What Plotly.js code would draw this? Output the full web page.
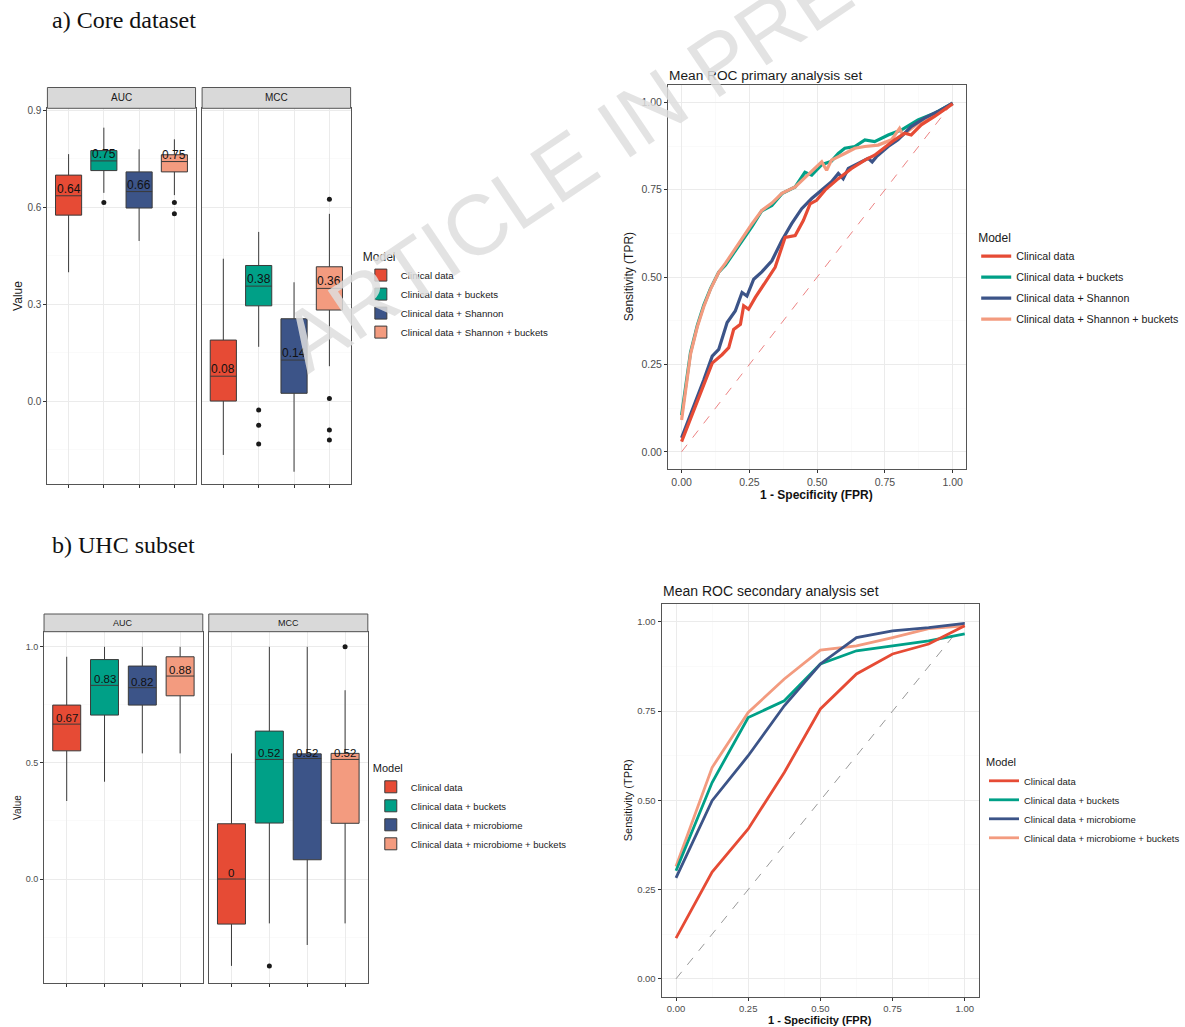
<!DOCTYPE html>
<html><head><meta charset="utf-8">
<script src="https://cdn.plot.ly/plotly-3.0.1.min.js"></script>
<style>html,body{margin:0;padding:0;background:#fff}#chart{width:1185px;height:1027px}</style>
</head><body><div id="chart"></div>
<script>
// ---------- data ----------
const modelsA = ["Clinical data", "Clinical data + buckets", "Clinical data + Shannon", "Clinical data + Shannon + buckets"];
const modelsB = ["Clinical data", "Clinical data + buckets", "Clinical data + microbiome", "Clinical data + microbiome + buckets"];
const colors = ["#E64B35", "#00A087", "#3C5488", "#F39B7F"];

// a) Core dataset - AUC
const aAucLow  = [0.399, 0.645, 0.496, 0.638];
const aAucQ1   = [0.576, 0.714, 0.598, 0.710];
const aAucMed  = [0.636, 0.744, 0.649, 0.742];
const aAucQ3   = [0.700, 0.776, 0.710, 0.763];
const aAucHigh = [0.765, 0.847, 0.780, 0.811];
const aAucLabels = ["0.64", "0.75", "0.66", "0.75"];
const aAucOutX = ["Clinical data + buckets", "Clinical data + Shannon + buckets", "Clinical data + Shannon + buckets"];
const aAucOutY = [0.615, 0.615, 0.580];

// a) Core dataset - MCC
const aMccLow  = [-0.167, 0.168, -0.219, 0.108];
const aMccQ1   = [0.000, 0.295, 0.024, 0.282];
const aMccMed  = [0.077, 0.356, 0.127, 0.349];
const aMccQ3   = [0.189, 0.420, 0.255, 0.416];
const aMccHigh = [0.441, 0.524, 0.368, 0.580];
const aMccLabels = ["0.08", "0.38", "0.14", "0.36"];
const aMccOutX = ["Clinical data + buckets", "Clinical data + buckets", "Clinical data + buckets",
                  "Clinical data + Shannon + buckets", "Clinical data + Shannon + buckets", "Clinical data + Shannon + buckets", "Clinical data + Shannon + buckets"];
const aMccOutY = [-0.028, -0.075, -0.133, 0.625, 0.008, -0.090, -0.121];

// b) UHC subset - AUC
const bAucLow  = [0.336, 0.419, 0.541, 0.541];
const bAucQ1   = [0.552, 0.706, 0.749, 0.789];
const bAucMed  = [0.667, 0.834, 0.824, 0.874];
const bAucQ3   = [0.749, 0.945, 0.917, 0.957];
const bAucHigh = [0.957, 1.000, 1.000, 1.000];
const bAucLabels = ["0.67", "0.83", "0.82", "0.88"];

// b) UHC subset - MCC
const bMccLow  = [-0.374, -0.191, -0.284, -0.191];
const bMccQ1   = [-0.194, 0.241, 0.083, 0.240];
const bMccMed  = [0.000, 0.515, 0.519, 0.515];
const bMccQ3   = [0.238, 0.637, 0.539, 0.541];
const bMccHigh = [0.541, 1.000, 1.000, 0.813];
const bMccLabels = ["0", "0.52", "0.52", "0.52"];
const bMccOutX = ["Clinical data + buckets", "Clinical data + microbiome + buckets"];
const bMccOutY = [-0.374, 1.000];

// Mean ROC primary analysis set
const rocA_clin_x = [0, 0.051, 0.082, 0.113, 0.149, 0.174, 0.192, 0.217, 0.229, 0.247, 0.272, 0.308, 0.345, 0.382, 0.419, 0.449, 0.474, 0.498, 0.529, 0.578, 0.627, 0.676, 0.712, 0.737, 0.786, 0.823, 0.847, 0.884, 0.933, 0.994, 1.0];
const rocA_clin_y = [0.029, 0.13, 0.187, 0.254, 0.278, 0.298, 0.35, 0.365, 0.418, 0.408, 0.442, 0.485, 0.528, 0.614, 0.619, 0.662, 0.71, 0.72, 0.749, 0.782, 0.811, 0.835, 0.849, 0.864, 0.893, 0.912, 0.907, 0.936, 0.96, 0.993, 0.996];
const rocA_buck_x = [0, 0.015, 0.033, 0.058, 0.082, 0.107, 0.137, 0.162, 0.211, 0.26, 0.296, 0.333, 0.37, 0.419, 0.455, 0.48, 0.517, 0.553, 0.578, 0.602, 0.639, 0.676, 0.712, 0.762, 0.81, 0.872, 0.933, 1.0];
const rocA_buck_y = [0.105, 0.19, 0.285, 0.362, 0.42, 0.468, 0.514, 0.535, 0.59, 0.645, 0.69, 0.705, 0.739, 0.758, 0.8, 0.792, 0.822, 0.832, 0.854, 0.869, 0.874, 0.893, 0.888, 0.907, 0.921, 0.95, 0.969, 0.998];
const rocA_shan_x = [0, 0.045, 0.082, 0.113, 0.137, 0.168, 0.198, 0.223, 0.241, 0.266, 0.296, 0.333, 0.37, 0.406, 0.443, 0.48, 0.517, 0.553, 0.578, 0.596, 0.615, 0.651, 0.688, 0.703, 0.719, 0.762, 0.798, 0.847, 0.896, 0.945, 1.0];
const rocA_shan_y = [0.04, 0.13, 0.206, 0.274, 0.293, 0.37, 0.403, 0.456, 0.446, 0.494, 0.515, 0.547, 0.605, 0.653, 0.696, 0.725, 0.749, 0.773, 0.797, 0.782, 0.811, 0.826, 0.84, 0.83, 0.845, 0.874, 0.893, 0.931, 0.955, 0.974, 0.998];
const rocA_both_x = [0, 0.015, 0.033, 0.058, 0.082, 0.107, 0.137, 0.162, 0.211, 0.26, 0.296, 0.333, 0.37, 0.419, 0.455, 0.517, 0.535, 0.553, 0.602, 0.639, 0.676, 0.725, 0.774, 0.804, 0.816, 0.872, 0.933, 1.0];
const rocA_both_y = [0.091, 0.183, 0.28, 0.358, 0.416, 0.466, 0.514, 0.54, 0.598, 0.653, 0.691, 0.712, 0.74, 0.758, 0.785, 0.83, 0.806, 0.835, 0.854, 0.869, 0.874, 0.878, 0.893, 0.926, 0.907, 0.94, 0.964, 0.998];

// Mean ROC secondary analysis set
const rocB_x = [0, 0.125, 0.25, 0.375, 0.5, 0.625, 0.75, 0.875, 1.0];
const rocB_clin_y = [0.114, 0.299, 0.42, 0.578, 0.756, 0.854, 0.91, 0.938, 0.989];
const rocB_buck_y = [0.303, 0.55, 0.732, 0.779, 0.882, 0.919, 0.933, 0.947, 0.966];
const rocB_micr_y = [0.283, 0.499, 0.625, 0.765, 0.882, 0.956, 0.975, 0.984, 0.996];
const rocB_both_y = [0.315, 0.592, 0.746, 0.84, 0.921, 0.933, 0.956, 0.981, 0.989];

const diagX = [0, 1];
const diagY = [0, 1];

// ---------- geometry helpers ----------
const W = 1185, H = 1027;
const fx = px => px / W;
const fy = py => 1 - py / H;

const traces = [];
const annotations = [];
const shapes = [];

function addBoxes(models, low, q1, med, q3, high, labels, xa, ya, legendName, showLeg, fs) {
  for (let i = 0; i < models.length; i++) {
    traces.push({
      type: 'box', name: models[i], x: [models[i]],
      lowerfence: [low[i]], q1: [q1[i]], median: [med[i]], q3: [q3[i]], upperfence: [high[i]],
      xaxis: xa, yaxis: ya, fillcolor: colors[i],
      line: {color: '#3a3a3a', width: 1}, whiskerwidth: 0, width: 0.74,
      boxpoints: false, showlegend: showLeg, legend: legendName, hoverinfo: 'skip'
    });
    annotations.push({
      xref: xa, yref: ya, x: models[i], y: med[i], text: labels[i], showarrow: false,
      xanchor: 'center', yanchor: 'bottom', yshift: -2,
      font: {family: 'Liberation Sans, Arial', size: fs, color: '#111'}
    });
  }
}
function addOutliers(xs, ys, xa, ya) {
  traces.push({type: 'scatter', mode: 'markers', x: xs, y: ys, xaxis: xa, yaxis: ya,
    marker: {color: '#1a1a1a', size: 5}, showlegend: false, hoverinfo: 'skip'});
}

addBoxes(modelsA, aAucLow, aAucQ1, aAucMed, aAucQ3, aAucHigh, aAucLabels, 'x', 'y', 'legend', true, 12);
addOutliers(aAucOutX, aAucOutY, 'x', 'y');
addBoxes(modelsA, aMccLow, aMccQ1, aMccMed, aMccQ3, aMccHigh, aMccLabels, 'x2', 'y2', 'legend', false, 12);
addOutliers(aMccOutX, aMccOutY, 'x2', 'y2');
addBoxes(modelsB, bAucLow, bAucQ1, bAucMed, bAucQ3, bAucHigh, bAucLabels, 'x4', 'y4', 'legend2', true, 11.5);
addBoxes(modelsB, bMccLow, bMccQ1, bMccMed, bMccQ3, bMccHigh, bMccLabels, 'x5', 'y5', 'legend2', false, 11.5);
addOutliers(bMccOutX, bMccOutY, 'x5', 'y5');

// ROC primary
traces.push({type: 'scatter', mode: 'lines', x: diagX, y: diagY, xaxis: 'x3', yaxis: 'y3',
  line: {color: 'rgba(230,90,90,0.75)', width: 1, dash: 'dash'}, showlegend: false, hoverinfo: 'skip'});
const rocAList = [[rocA_clin_x, rocA_clin_y], [rocA_buck_x, rocA_buck_y], [rocA_shan_x, rocA_shan_y], [rocA_both_x, rocA_both_y]];
const tmpA = [];
rocAList.forEach((d, i) => {
  tmpA[i] = {type: 'scatter', mode: 'lines', name: modelsA[i], x: d[0], y: d[1], xaxis: 'x3', yaxis: 'y3',
    line: {color: colors[i], width: 3.2}, legend: 'legend3', legendgroup: 'a' + i, legendrank: i + 1, hoverinfo: 'skip'};
});
[1, 3, 2, 0].forEach(i => traces.push(tmpA[i]));

// ROC secondary
traces.push({type: 'scatter', mode: 'lines', x: diagX, y: diagY, xaxis: 'x6', yaxis: 'y6',
  line: {color: '#999999', width: 1, dash: 'dash'}, showlegend: false, hoverinfo: 'skip'});
const rocBList = [rocB_clin_y, rocB_buck_y, rocB_micr_y, rocB_both_y];
const tmpB = [];
rocBList.forEach((yv, i) => {
  tmpB[i] = {type: 'scatter', mode: 'lines', name: modelsB[i], x: rocB_x, y: yv, xaxis: 'x6', yaxis: 'y6',
    line: {color: colors[i], width: 2.8}, legend: 'legend4', legendgroup: 'b' + i, legendrank: i + 1, hoverinfo: 'skip'};
});
[3, 1, 2, 0].forEach(i => traces.push(tmpB[i]));

// ---------- axes ----------
const tickFont = (s) => ({family: 'Liberation Sans, Arial', size: s, color: '#4d4d4d'});
function catAxis(dom, anchor, cats) {
  return {domain: dom, anchor: anchor, type: 'category', categoryarray: cats, categoryorder: 'array',
    range: [-0.6, 3.6], showgrid: true, gridcolor: '#ebebeb', gridwidth: 1,
    ticks: 'outside', ticklen: 3, tickcolor: '#333', showticklabels: false,
    showline: true, mirror: true, linecolor: '#555', linewidth: 1, zeroline: false, fixedrange: true};
}
function valAxis(dom, anchor, range, dtick, minor, fmt, fs, showLabels, match) {
  const a = {domain: dom, anchor: anchor, range: range, tick0: 0, dtick: dtick, tickformat: fmt,
    showgrid: true, gridcolor: '#ebebeb', gridwidth: 1,
    minor: {dtick: minor, tick0: 0, showgrid: true, gridcolor: '#f6f6f6', gridwidth: 0.6, ticks: ''},
    ticks: showLabels ? 'outside' : '', ticklen: 3, tickcolor: '#333', showticklabels: showLabels,
    tickfont: tickFont(fs), showline: true, mirror: true, linecolor: '#555', linewidth: 1, zeroline: false, fixedrange: true};
  if (match) a.matches = match;
  return a;
}

const yTopBox = [fy(484), fy(108.3)];
const yBotBox = [fy(983.3), fy(631.7)];

const layout = {
  width: W, height: H, margin: {l: 0, r: 0, t: 0, b: 0},
  paper_bgcolor: '#ffffff', plot_bgcolor: '#ffffff',
  font: {family: 'Liberation Sans, Arial', color: '#1a1a1a'},
  boxmode: 'overlay',
  xaxis: catAxis([fx(47.7), fx(196.7)], 'y', modelsA),
  yaxis: valAxis(yTopBox, 'x', [-0.257, 0.907], 0.3, 0.15, '.1f', 10, true),
  xaxis2: catAxis([fx(203.3), fx(352.7)], 'y2', modelsA),
  yaxis2: valAxis(yTopBox, 'x2', [-0.257, 0.907], 0.3, 0.15, '.1f', 10, false, 'y'),
  xaxis3: valAxis([fx(672), fx(972)], 'y3', [-0.05, 1.05], 0.25, 0.125, '.2f', 10.5, true),
  yaxis3: valAxis([fy(469.3), fy(85)], 'x3', [-0.05, 1.05], 0.25, 0.125, '.2f', 10.5, true),
  xaxis4: catAxis([fx(44.3), fx(204)], 'y4', modelsB),
  yaxis4: valAxis(yBotBox, 'x4', [-0.449, 1.065], 0.5, 0.25, '.1f', 9, true),
  xaxis5: catAxis([fx(210), fx(370)], 'y5', modelsB),
  yaxis5: valAxis(yBotBox, 'x5', [-0.449, 1.065], 0.5, 0.25, '.1f', 9, false, 'y4'),
  xaxis6: valAxis([fx(665.5), fx(985)], 'y6', [-0.05, 1.05], 0.25, 0.125, '.2f', 9.5, true),
  yaxis6: valAxis([fy(996.7), fy(604)], 'x6', [-0.05, 1.05], 0.25, 0.125, '.2f', 9.5, true),
  legend: {x: fx(363), y: fy(245), xanchor: 'left', yanchor: 'top', bgcolor: 'rgba(0,0,0,0)',
    title: {text: 'Model', font: {size: 12, color: '#1a1a1a'}}, font: {size: 9.7, color: '#1a1a1a'}, itemclick: false},
  legend2: {x: fx(373), y: fy(758), xanchor: 'left', yanchor: 'top', bgcolor: 'rgba(0,0,0,0)',
    title: {text: 'Model', font: {size: 11, color: '#1a1a1a'}}, font: {size: 9.5, color: '#1a1a1a'}, itemclick: false},
  legend3: {x: fx(982), y: fy(226), xanchor: 'left', yanchor: 'top', bgcolor: 'rgba(0,0,0,0)', traceorder: 'grouped', tracegroupgap: 2,
    title: {text: 'Model', font: {size: 12, color: '#1a1a1a'}}, font: {size: 10.7, color: '#1a1a1a'}, itemclick: false},
  legend4: {x: fx(990), y: fy(752), xanchor: 'left', yanchor: 'top', bgcolor: 'rgba(0,0,0,0)', traceorder: 'grouped', tracegroupgap: 0,
    title: {text: 'Model', font: {size: 11, color: '#1a1a1a'}}, font: {size: 9.5, color: '#1a1a1a'}, itemclick: false},
  annotations: annotations,
  shapes: shapes
};

// strips
function strip(xa, top, bottom, label, fs) {
  shapes.push({type: 'rect', xref: xa + ' domain', yref: 'paper', x0: 0, x1: 1, y0: fy(bottom), y1: fy(top),
    fillcolor: '#d9d9d9', line: {color: '#555', width: 1}, layer: 'above'});
  annotations.push({xref: xa + ' domain', yref: 'paper', x: 0.5, y: fy((top + bottom) / 2), text: label,
    xanchor: 'center', yanchor: 'middle', showarrow: false, font: {size: fs, color: '#1a1a1a'}});
}
strip('x', 87.5, 108.3, 'AUC', 10);
strip('x2', 87.5, 108.3, 'MCC', 10);
strip('x4', 614, 631.7, 'AUC', 9);
strip('x5', 614, 631.7, 'MCC', 9);

function txt(x, y, text, size, extra) {
  annotations.push(Object.assign({xref: 'paper', yref: 'paper', x: fx(x), y: fy(y), text: text, showarrow: false,
    xanchor: 'center', yanchor: 'middle', font: {size: size, color: '#1a1a1a'}}, extra || {}));
}
// section titles
const serif = {family: 'Liberation Serif, Times New Roman', size: 24, color: '#111'};
txt(50, 20, 'a) Core dataset', 24, {xanchor: 'left', font: serif});
txt(50, 545, 'b) UHC subset', 24, {xanchor: 'left', font: serif});
// axis titles
txt(18, 296, 'Value', 12, {textangle: -90});
txt(17, 807, 'Value', 10, {textangle: -90});
txt(633, 277, 'Sensitivity (TPR)', 12, {textangle: -90});
txt(821, 495, '1 - Specificity (FPR)', 12, {font: {size: 12, color: '#111', weight: 'bold'}});
txt(632, 800, 'Sensitivity (TPR)', 11, {textangle: -90});
txt(825, 1020, '1 - Specificity (FPR)', 11, {font: {size: 11, color: '#111', weight: 'bold'}});
// plot titles
txt(671, 75, 'Mean ROC primary analysis set', 13.7, {xanchor: 'left'});
txt(665, 591, 'Mean ROC secondary analysis set', 14, {xanchor: 'left'});
// watermark
txt(618, 133, 'ARTICLE IN PRESS', 85, {textangle: -34, font: {family: 'Liberation Sans, Arial', size: 85, color: 'rgba(222,222,222,0.85)'}});

Plotly.newPlot('chart', traces, layout, {staticPlot: true});
</script></body></html>
